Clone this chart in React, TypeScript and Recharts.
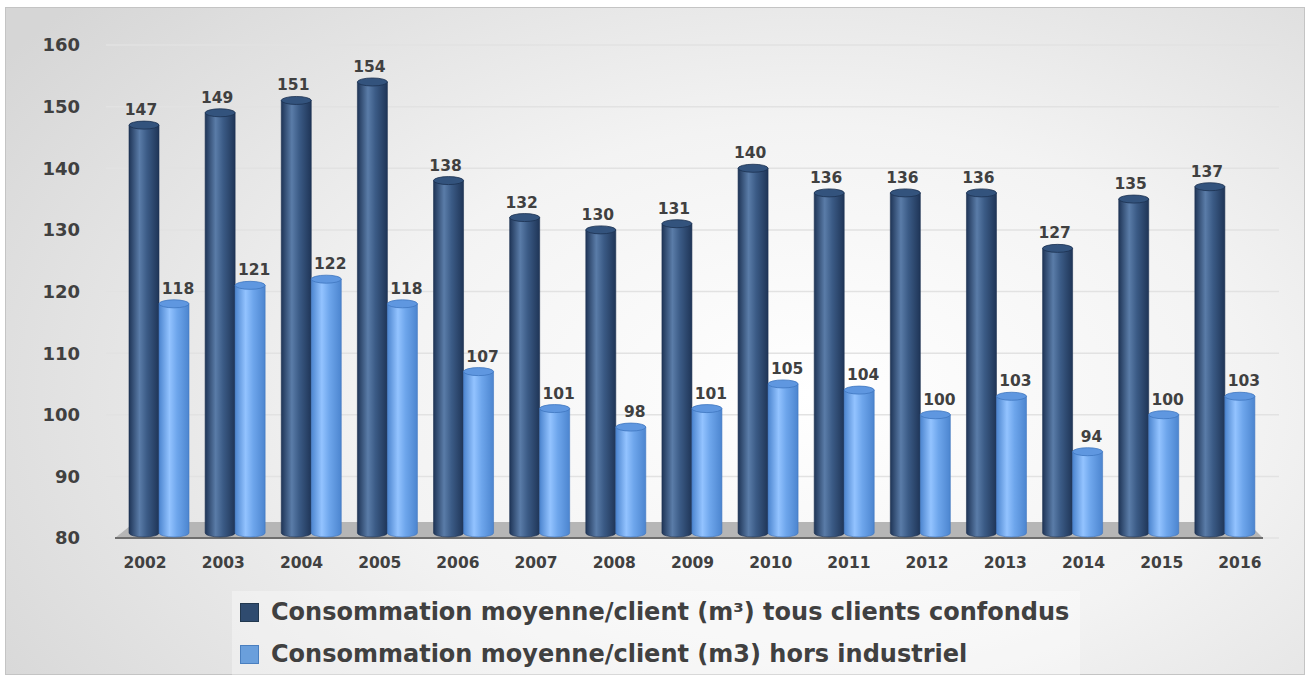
import React from 'react'
import {
  BarChart,
  Bar,
  XAxis,
  YAxis,
  CartesianGrid,
  LabelList,
  Legend,
  ReferenceArea,
} from 'recharts'

const years = ['2002', '2003', '2004', '2005', '2006', '2007', '2008', '2009', '2010', '2011', '2012', '2013', '2014', '2015', '2016']
const tousClients = [147, 149, 151, 154, 138, 132, 130, 131, 140, 136, 136, 136, 127, 135, 137]
const horsIndustriel = [118, 121, 122, 118, 107, 101, 98, 101, 105, 104, 100, 103, 94, 100, 103]
const yTicks = [80, 90, 100, 110, 120, 130, 140, 150, 160]

const data = years.map((year, i) => ({
  year,
  tous: tousClients[i],
  hors: horsIndustriel[i],
}))

const SERIES = [
  {
    key: 'tous',
    name: 'Consommation moyenne/client (m³) tous clients confondus',
    swatch: '#2f4b6f',
    border: '#22384f',
    edge: '#1f3557',
    mid: '#3b5b86',
    light: '#5a7ca8',
    top: '#33537d',
    topStroke: '#1c3150',
  },
  {
    key: 'hors',
    name: 'Consommation moyenne/client (m3) hors industriel',
    swatch: '#6a9fdc',
    border: '#4a7fbf',
    edge: '#4c85cf',
    mid: '#6ea6ec',
    light: '#93c3ff',
    top: '#5f97e0',
    topStroke: '#3f76bf',
  },
]

function makeCylinder(s: (typeof SERIES)[number]) {
  return function Cylinder(props: any) {
    const { x, y, width, height } = props
    if (width == null || height == null) return null
    const rx = width / 2
    const ry = 4
    const bottom = y + height - 5
    const gid = `cyl-${s.key}`
    return (
      <g>
        <defs>
          <linearGradient id={gid} x1="0" y1="0" x2="1" y2="0">
            <stop offset="0%" stopColor={s.edge} />
            <stop offset="35%" stopColor={s.light} />
            <stop offset="60%" stopColor={s.mid} />
            <stop offset="100%" stopColor={s.edge} />
          </linearGradient>
        </defs>
        <path
          d={`M${x},${y} L${x},${bottom} A${rx},${ry} 0 0 0 ${x + width},${bottom} L${x + width},${y} Z`}
          fill={`url(#${gid})`}
          stroke={s.topStroke}
          strokeWidth={0.6}
        />
        <ellipse cx={x + rx} cy={y} rx={rx} ry={ry} fill={s.top} stroke={s.topStroke} strokeWidth={0.8} />
      </g>
    )
  }
}

function Floor(props: any) {
  const { x, y, width, height } = props
  return (
    <g>
      <polygon
        points={`${x + 14},${y} ${x + width - 16},${y} ${x + width},${y + height} ${x - 6},${y + height}`}
        fill="#b6b6b6"
      />
      <line x1={x - 6} y1={y + height} x2={x + width} y2={y + height} stroke="#6e6e6e" strokeWidth={2} />
    </g>
  )
}

function renderLegend() {
  return (
    <div
      style={{
        background: 'rgba(255,255,255,0.35)',
        height: 84,
        boxSizing: 'border-box',
        paddingLeft: 8,
        fontFamily: '"DejaVu Sans", sans-serif',
        fontWeight: 700,
        fontSize: 24,
        color: '#404040',
      }}
    >
      {SERIES.map((s) => (
        <div key={s.key} style={{ display: 'flex', alignItems: 'center', height: 42, whiteSpace: 'nowrap' }}>
          <span
            style={{
              display: 'inline-block',
              width: 17,
              height: 17,
              background: s.swatch,
              border: `1px solid ${s.border}`,
              marginRight: 12,
            }}
          />
          <span>{s.name}</span>
        </div>
      ))}
    </div>
  )
}

const labelStyle = {
  fill: '#404040',
  fontSize: 15.5,
  fontWeight: 700,
  fontFamily: '"DejaVu Sans", sans-serif',
}

export default function App() {
  return (
    <div style={{ position: 'absolute', left: 0, top: 0, width: 1311, height: 676 }}>
      <div
        style={{
          position: 'absolute',
          left: 5,
          top: 7,
          width: 1300,
          height: 668,
          boxSizing: 'border-box',
          border: '1px solid #c4c4c4',
          background: 'radial-gradient(ellipse 75% 90% at 62% 58%, #ffffff 0%, #f3f3f3 45%, #d6d6d6 100%)',
        }}
      />
      <div style={{ position: 'absolute', left: 0, top: 0 }}>
        <BarChart
          width={1311}
          height={676}
          data={data}
          margin={{ top: 45, right: 32, bottom: 24, left: 0 }}
          barGap={0}
        >
          <CartesianGrid vertical={false} stroke="#e2e2e2" strokeWidth={1.5} xAxisId="bars" />
          <XAxis
            xAxisId="bars"
            dataKey="year"
            padding={{ left: 15, right: 16 }}
            tick={false}
            axisLine={false}
            tickLine={false}
            height={0}
          />
          <XAxis
            xAxisId="labels"
            dataKey="year"
            height={30}
            axisLine={false}
            tickLine={false}
            tickSize={0}
            tickMargin={19}
            tick={labelStyle}
            interval={0}
          />
          <YAxis
            domain={[80, 160]}
            ticks={yTicks}
            width={106}
            axisLine={false}
            tickLine={false}
            tickSize={0}
            tickMargin={26}
            tick={{ ...labelStyle, fontSize: 18 }}
            allowDataOverflow
          />
          <ReferenceArea xAxisId="bars" y1={80} y2={82.6} shape={<Floor />} ifOverflow="extendDomain" />
          {SERIES.map((s, i) => (
            <Bar
              key={s.key}
              xAxisId="bars"
              dataKey={s.key}
              name={s.name}
              barSize={30}
              fill={s.mid}
              shape={makeCylinder(s)}
              isAnimationActive={false}
            >
              <LabelList dataKey={s.key} position="top" offset={10} dx={i === 1 ? 4 : -3} style={labelStyle} />
            </Bar>
          ))}
          <Legend
            content={renderLegend}
            verticalAlign="bottom"
            wrapperStyle={{ left: 232, bottom: 1, width: 848 }}
          />
        </BarChart>
      </div>
    </div>
  )
}
